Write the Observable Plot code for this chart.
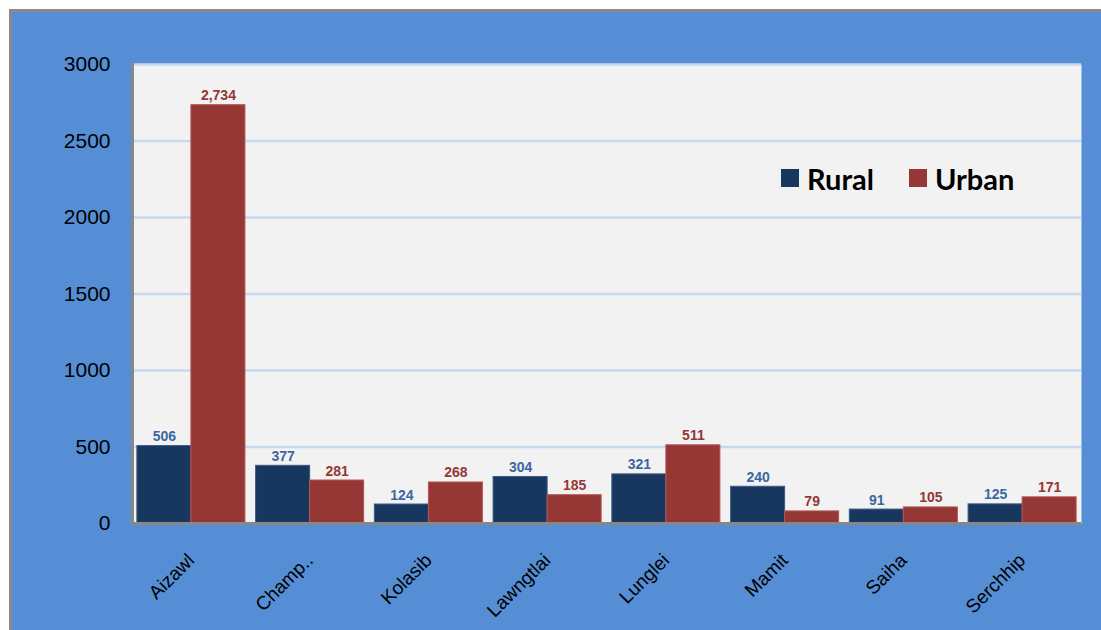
<!DOCTYPE html>
<html><head><meta charset="utf-8">
<script src="https://cdn.jsdelivr.net/npm/d3@7"></script>
<script src="https://cdn.jsdelivr.net/npm/@observablehq/plot@0.6"></script>
<style>
html,body{margin:0;padding:0;background:#fff;width:1101px;height:630px;overflow:hidden;position:relative;}
#frame{position:absolute;left:9px;top:9px;width:1100px;height:630px;background:#558ed5;border-top:3px solid #8a8a8a;border-left:3px solid #8a8a8a;}
#chart{position:absolute;left:0;top:0;}
.legend{position:absolute;top:161px;height:34px;display:flex;align-items:center;font-family:Lato,"Open Sans",sans-serif;font-weight:700;font-size:29px;color:#000;}
.legend span.sw{display:inline-block;width:18px;height:18px;margin-right:8px;}
</style></head>
<body>
<div id="frame"></div>
<div id="chart"></div>
<script>
const districts = ["Aizawl","Champ..","Kolasib","Lawngtlai","Lunglei","Mamit","Saiha","Serchhip"];
const rural = [506, 377, 124, 304, 321, 240, 91, 125];
const urban = [2734, 281, 268, 185, 511, 79, 105, 171];
const seriesNames = ["Rural","Urban"];
const seriesColors = ["#17375e","#953735"];
const labelColors = ["#3d67a0","#953735"];
const yTicks = [0, 500, 1000, 1500, 2000, 2500, 3000];

const W = 1101, H = 630;
const mL = 132, mR = 20, mT = 64, mB = 107;
const padIn = 0.09, padOut = 0.041;

const xs = Plot.scale({x: {type: "band", domain: districts, range: [mL, W - mR], paddingInner: padIn, paddingOuter: padOut, round: false}});
const half = xs.bandwidth / 2;

const ruralData = districts.map((d, i) => ({district: d, value: rural[i]}));
const urbanData = districts.map((d, i) => ({district: d, value: urban[i]}));
const fmt = d3.format(",");

const chart = Plot.plot({
  width: W, height: H,
  marginLeft: mL, marginRight: mR, marginTop: mT, marginBottom: mB,
  style: {background: "transparent", fontFamily: "'Liberation Sans', Arial, sans-serif"},
  x: {type: "band", domain: districts, paddingInner: padIn, paddingOuter: padOut, round: false, axis: null},
  y: {domain: [0, 3000], axis: null, label: null},
  marks: [
    Plot.frame({fill: "#f2f2f2", stroke: null}),
    Plot.ruleY(yTicks.filter(d => d > 0), {stroke: "#c6d9f1", strokeWidth: 2.5}),
    Plot.barY(ruralData, {x: "district", y: "value", fill: seriesColors[0], stroke: "#3b5a85", strokeWidth: 1, insetRight: half}),
    Plot.barY(urbanData, {x: "district", y: "value", fill: seriesColors[1], stroke: "#b65553", strokeWidth: 1, insetLeft: half}),
    Plot.text(ruralData, {x: "district", y: "value", text: d => fmt(d.value), dx: -half / 2, dy: -5, lineAnchor: "bottom", fill: labelColors[0], fontWeight: "bold", fontSize: 14}),
    Plot.text(urbanData, {x: "district", y: "value", text: d => fmt(d.value), dx: half / 2, dy: -5, lineAnchor: "bottom", fill: labelColors[1], fontWeight: "bold", fontSize: 14}),
    Plot.ruleY([0], {stroke: "#878787", strokeWidth: 3}),
    Plot.frame({anchor: "left", stroke: "#878787", strokeWidth: 3}),
    Plot.axisY({ticks: yTicks, tickSize: 0, tickPadding: 22, fontSize: 21, fill: "#000", label: null, tickFormat: d3.format("d")}),
    Plot.text(districts, {x: d => d, frameAnchor: "bottom", rotate: -45, textAnchor: "end", lineAnchor: "bottom", dx: 4, dy: 38, fontSize: 19, fill: "#000"})
  ]
});
document.getElementById("chart").appendChild(chart);

// legend (inside plot area)
const legendPos = [781, 909];
seriesNames.forEach((name, i) => {
  const el = document.createElement("div");
  el.className = "legend";
  el.style.left = legendPos[i] + "px";
  el.innerHTML = `<span class="sw" style="background:${seriesColors[i]}"></span>${name}`;
  document.body.appendChild(el);
});
</script>
</body></html>
